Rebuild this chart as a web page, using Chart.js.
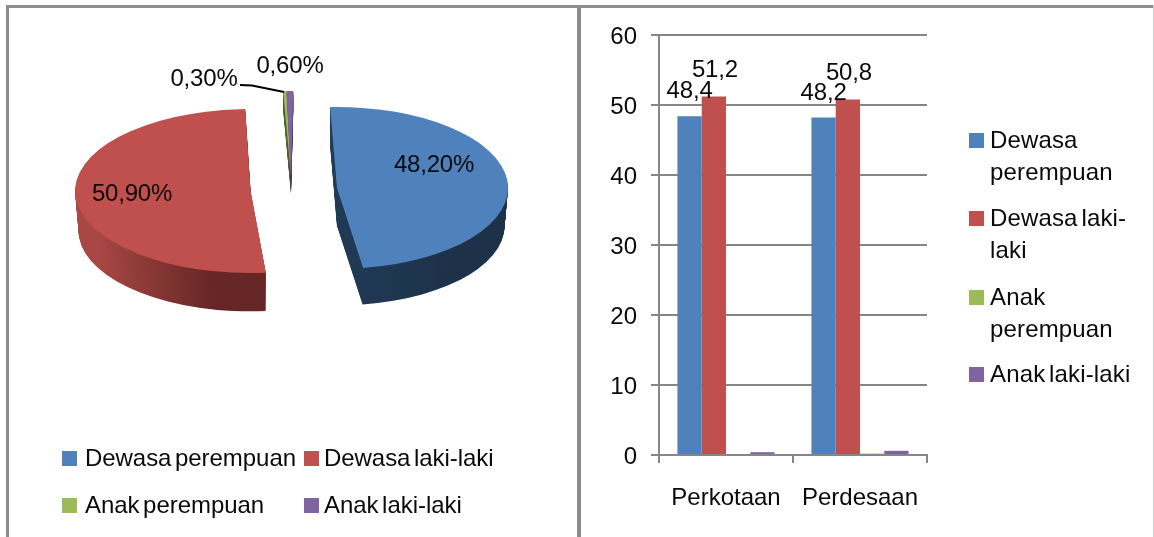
<!DOCTYPE html>
<html>
<head>
<meta charset="utf-8">
<title>Dewasa dan anak</title>
<script src="https://cdn.jsdelivr.net/npm/chart.js@4/dist/chart.umd.min.js"></script>
<style>
  html, body { margin: 0; padding: 0; background: #fff; }
  body { width: 1154px; height: 537px; position: relative; overflow: hidden;
         font-family: "Liberation Sans", Arial, sans-serif; color: #0a0a0a; }
  canvas { position: absolute; top: 0; }
  .rule { position: absolute; background: #8c8c8c; }
  .item { position: absolute; font-size: 24px; line-height: 32px; letter-spacing: -0.05px; word-spacing: -3px; white-space: nowrap; }
  .item.wide { letter-spacing: 0.15px; }
  .item i { position: absolute; width: 15px; height: 15px; top: 9px; }
</style>
</head>
<body>
<div class="rule" style="left:6px;top:5px;width:1148px;height:3px"></div>
<div class="rule" style="left:6px;top:5px;width:3px;height:532px"></div>
<div class="rule" style="left:577px;top:5px;width:4px;height:532px"></div>
<div class="rule" style="left:1153px;top:5px;width:1px;height:532px;background:#d0d0d0"></div>
<canvas id="pieChart" width="568" height="530" style="left:9px;top:7px;width:568px;height:530px"></canvas>
<canvas id="barChart" width="571" height="537" style="left:583px;width:571px;height:537px"></canvas>
<div id="legends"></div>

<script>
// data
const groups = ['Dewasa perempuan', 'Dewasa laki-laki', 'Anak perempuan', 'Anak laki-laki'];
const pieValues = [48.2, 50.9, 0.3, 0.6];
const areas = ['Perkotaan', 'Perdesaan'];
const perkotaanValues = [48.4, 51.2, 0, 0.4];
const perdesaanValues = [48.2, 50.8, 0.2, 0.6];
const yTicks = [0, 10, 20, 30, 40, 50, 60];

const colors = ['#4F81BD', '#C0504D', '#9BBB59', '#8064A2'];
const PANEL_X = 9, PANEL_Y = 7;

// where each exploded slice sits (page px), the library only gives one ellipse
const sliceFrames = [
  { cx: 337, cy: 188, rx: 171, ry: 81, rot: 0.047, depth: 38, side: ['#22405f', '#1d3148'] },
  { cx: 250.6, cy: 191, rx: 175.5, ry: 82, rot: 0.113, depth: 40, side: ['#a84744', '#652625'] },
  { cx: 291, cy: 176, rx: 181, ry: 85, rot: 0.1, depth: 18, side: ['#4c5f2a', '#4c5f2a'] },
  { cx: 291, cy: 176, rx: 181, ry: 85, rot: 0.1, depth: 18, side: ['#4a3a60', '#4a3a60'] }
];
const pieLabelPos = [[434, 165], [132, 194], [204, 79], [290, 66]];

function drawArc(chart, arc, f, fill, dy, shrink) {
  const ctx = chart.ctx;
  const R = arc.outerRadius;
  ctx.save();
  ctx.translate(f.cx - PANEL_X, f.cy - PANEL_Y + dy);
  ctx.scale(f.rx / R * shrink, f.ry / R * shrink);
  ctx.rotate(f.rot);
  ctx.translate(-arc.x, -arc.y);
  const saved = arc.options;
  arc.options = Object.assign({}, saved, { backgroundColor: fill, borderWidth: 0 });
  arc.draw(ctx);
  arc.options = saved;
  ctx.restore();
}

// tilted pie: side wall first, then the top face
const tiltedPie = {
  id: 'tiltedPie',
  beforeDatasetDraw(chart) {
    const ctx = chart.ctx;
    const arcs = chart.getDatasetMeta(0).data;
    arcs.forEach((arc, i) => {
      const f = sliceFrames[i];
      const grad = ctx.createLinearGradient(f.cx - f.rx - PANEL_X, 0, f.cx + f.rx - PANEL_X, 0);
      grad.addColorStop(0, f.side[0]);
      grad.addColorStop(i === 1 ? 0.55 : 1, f.side[1]);
      for (let d = f.depth; d >= 1; d--) {
        drawArc(chart, arc, f, grad, d, 1 - 0.02 * d / f.depth);
      }
    });
    arcs.forEach((arc, i) => drawArc(chart, arc, sliceFrames[i], colors[i], 0, 1));
    return false;
  },
  afterDatasetsDraw(chart) {
    const ctx = chart.ctx;
    ctx.save();
    // leader line of 0,30%
    ctx.strokeStyle = '#000';
    ctx.lineWidth = 2;
    ctx.beginPath();
    ctx.moveTo(240 - PANEL_X, 85 - PANEL_Y);
    ctx.lineTo(252 - PANEL_X, 85.5 - PANEL_Y);
    ctx.lineTo(284 - PANEL_X, 92 - PANEL_Y);
    ctx.stroke();
    ctx.font = '24px "Liberation Sans", Arial, sans-serif';
    ctx.letterSpacing = '-0.2px';
    ctx.fillStyle = '#0a0a0a';
    ctx.textAlign = 'center';
    ctx.textBaseline = 'middle';
    pieValues.forEach((v, i) => {
      const text = v.toFixed(2).replace('.', ',') + '%';
      ctx.fillText(text, pieLabelPos[i][0] - PANEL_X, pieLabelPos[i][1] - PANEL_Y);
    });
    ctx.restore();
  }
};

new Chart(document.getElementById('pieChart'), {
  type: 'pie',
  data: {
    labels: groups,
    datasets: [{ data: pieValues, backgroundColor: colors, borderWidth: 0 }]
  },
  options: {
    responsive: false,
    animation: false,
    rotation: -5,
    plugins: { legend: { display: false }, tooltip: { enabled: false } }
  },
  plugins: [tiltedPie]
});

// bar labels only for the two tall series
const barLabelLift = [[25, 26], [24, 26]];
const barLabels = {
  id: 'barLabels',
  afterDatasetsDraw(chart) {
    const ctx = chart.ctx;
    ctx.save();
    ctx.font = '24px "Liberation Sans", Arial, sans-serif';
    ctx.letterSpacing = '-0.2px';
    ctx.fillStyle = '#0a0a0a';
    ctx.textAlign = 'center';
    ctx.textBaseline = 'middle';
    [0, 1].forEach(s => {
      chart.getDatasetMeta(s).data.forEach((bar, c) => {
        const v = chart.data.datasets[s].data[c];
        ctx.fillText(v.toFixed(1).replace('.', ','), bar.x + (s === 0 ? 0 : 1), bar.y - barLabelLift[c][s]);
      });
    });
    ctx.restore();
  }
};

new Chart(document.getElementById('barChart'), {
  type: 'bar',
  data: {
    labels: areas,
    datasets: groups.map((g, i) => ({
      label: g,
      data: [perkotaanValues[i], perdesaanValues[i]],
      backgroundColor: colors[i],
      barPercentage: 1,
      categoryPercentage: 0.725
    }))
  },
  options: {
    responsive: false,
    animation: false,
    layout: { padding: { top: 35, right: 227, left: 0, bottom: 0 } },
    plugins: { legend: { display: false }, tooltip: { enabled: false } },
    scales: {
      x: {
        afterFit(scale) { scale.height = 82; },
        grid: { drawOnChartArea: false, color: '#868686', lineWidth: 2, tickLength: 8 },
        border: { color: '#868686', width: 2 },
        ticks: { color: '#0a0a0a', font: { size: 24, family: '"Liberation Sans", Arial, sans-serif' }, padding: 21, maxRotation: 0 }
      },
      y: {
        min: 0,
        max: 60,
        afterFit(scale) { scale.width = 76; },
        afterBuildTicks(scale) { scale.ticks = yTicks.map(v => ({ value: v })); },
        grid: { color: '#868686', lineWidth: 2, tickLength: 8 },
        border: { color: '#868686', width: 2 },
        ticks: { color: '#0a0a0a', font: { size: 24, family: '"Liberation Sans", Arial, sans-serif' }, padding: 14, labelOffset: 2 }
      }
    }
  },
  plugins: [barLabels]
});

// legends
const leftLegendPos = [[85, 442], [324, 442], [85, 489], [324, 489]];
const leftSwatchGap = [-23, -20, -23, -20];
const rightLegendPos = [[990, 124], [990, 202], [990, 281], [990, 358]];
const rightLegendLines = [['Dewasa', 'perempuan'], ['Dewasa laki-', 'laki'], ['Anak', 'perempuan'], ['Anak laki-laki']];
const legends = document.getElementById('legends');
function addLegend(lines, pos, i, gap, cls) {
  const el = document.createElement('div');
  el.className = cls;
  el.style.left = pos[0] + 'px';
  el.style.top = pos[1] + 'px';
  const box = document.createElement('i');
  box.style.background = colors[i];
  box.style.left = gap + 'px';
  el.appendChild(box);
  lines.forEach((t, n) => {
    if (n) el.appendChild(document.createElement('br'));
    el.appendChild(document.createTextNode(t));
  });
  legends.appendChild(el);
}
groups.forEach((g, i) => addLegend([g], leftLegendPos[i], i, leftSwatchGap[i], 'item'));
rightLegendLines.forEach((lines, i) => addLegend(lines, rightLegendPos[i], i, -21, 'item wide'));
</script>
</body>
</html>
